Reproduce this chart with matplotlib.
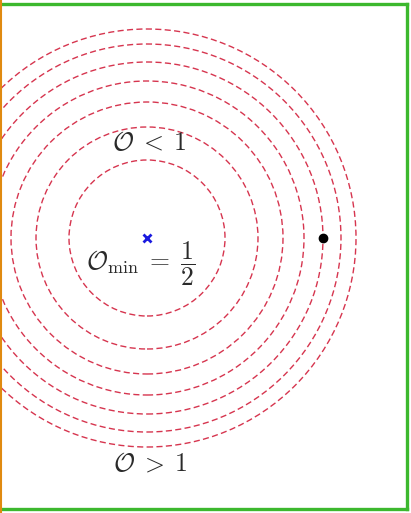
import matplotlib
matplotlib.use("Agg")
import matplotlib.pyplot as plt
from matplotlib.patches import Circle
from matplotlib.lines import Line2D

plt.rcParams["mathtext.fontset"] = "cm"

# Contour radii of the objective around its minimum (same units as the axes)
contour_radii = [78, 111, 136, 157, 176, 194, 209]
minimum_point = (0, 0)
sample_point = (176, 0)

labels = [
    (r"$\mathcal{O}\;<\;1$", (2, 95)),
    (r"$\mathcal{O}_{\min}\;=\;\dfrac{1}{2}$", (-6, -26)),
    (r"$\mathcal{O}\;>\;1$", (3, -226)),
]

fig = plt.figure(figsize=(4.11, 5.13), dpi=100)
ax = fig.add_axes([0, 0, 1, 1])
ax.set_xlim(-147, 264)
ax.set_ylim(-275, 238)
ax.set_aspect("equal")
ax.axis("off")

for r in contour_radii:
    ax.add_patch(Circle(minimum_point, r, fill=False, edgecolor="#d42a45",
                        lw=1.0, linestyle=(0, (4.4, 2.4)), alpha=0.95))

ax.plot(*minimum_point, marker="x", color="#1a1adf", ms=6, mew=2.0)
ax.plot(*sample_point, marker="o", color="black", ms=6)

for txt, (x, y) in labels:
    ax.text(x, y, txt, ha="center", va="center", fontsize=18.5, color="#2a2a2a")

# Frame: green on top, right and bottom, orange strip on the left
W, H = 411, 513
green = "#3cb82e"
frame = [
    ([2 / W, 407 / W], [509.5 / H, 509.5 / H]),
    ([407 / W, 407 / W], [509.5 / H, 4.5 / H]),
    ([407 / W, 2 / W], [4.5 / H, 4.5 / H]),
]
for xs, ys in frame:
    fig.lines.append(Line2D(xs, ys, transform=fig.transFigure, color=green,
                            lw=2.4, solid_capstyle="projecting"))
fig.lines.append(Line2D([1 / W, 1 / W], [0, 1], transform=fig.transFigure,
                        color="#e08a10", lw=1.5))

fig.savefig("out.png", dpi=100)
